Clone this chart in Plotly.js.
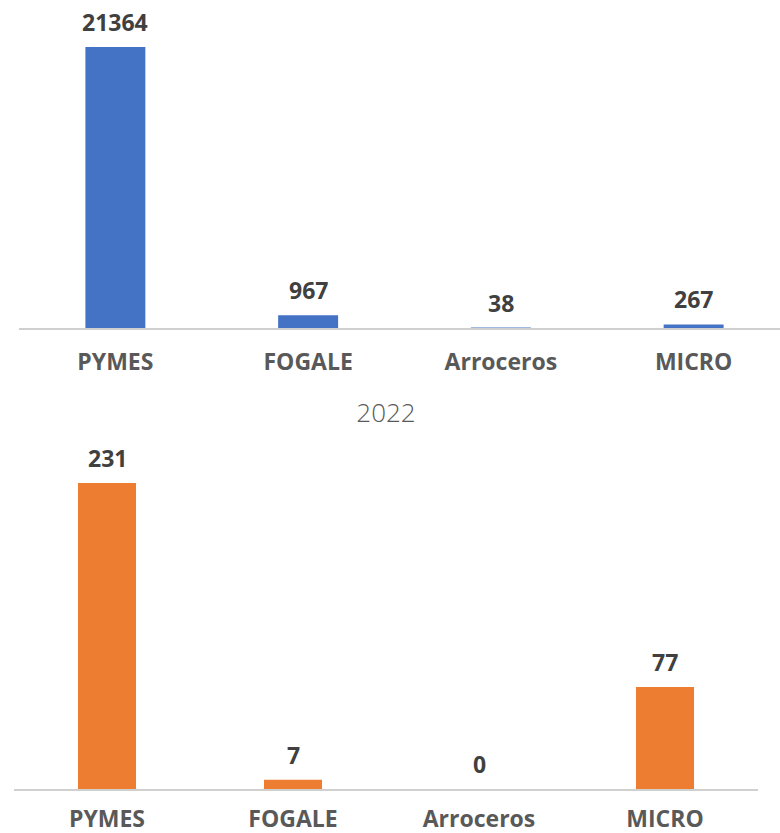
<!DOCTYPE html>
<html>
<head>
<meta charset="utf-8">
<script src="https://cdn.plot.ly/plotly-3.0.1.min.js"></script>
<style>html,body{margin:0;padding:0;background:#fff;}#chart{width:780px;height:833px;}</style>
</head>
<body>
<div id="chart"></div>
<script>
const categories = ['PYMES', 'FOGALE', 'Arroceros', 'MICRO'];
const valuesTop = [21364, 967, 38, 267];
const values2022 = [231, 7, 0, 77];
const title2022 = '2022';

const FONT = '"Open Sans", "Liberation Sans", sans-serif';
const labelColor = '#404040';
const tickColor = '#595959';

const traces = [
  {type: 'bar', x: categories, y: valuesTop, xaxis: 'x', yaxis: 'y',
   width: 0.311, marker: {color: '#4472C4'}, hoverinfo: 'none'},
  {type: 'bar', x: categories, y: values2022, xaxis: 'x2', yaxis: 'y2',
   width: 0.312, marker: {color: '#ED7D31'}, hoverinfo: 'none'}
];

const annotations = [];
categories.forEach((c, i) => {
  annotations.push({x: c, y: valuesTop[i], xref: 'x', yref: 'y', text: String(valuesTop[i]),
    showarrow: false, yanchor: 'middle', yshift: 25,
    font: {family: FONT, size: 23, color: labelColor, weight: 'bold'}});
  annotations.push({x: c, y: values2022[i], xref: 'x2', yref: 'y2', text: String(values2022[i]),
    showarrow: false, yanchor: 'middle', yshift: 25,
    font: {family: FONT, size: 23, color: labelColor, weight: 'bold'}});
});

const H = 833, W = 780;
const axisCommon = {
  type: 'category', showgrid: false, zeroline: false, showline: true,
  linecolor: '#d0d0d0', linewidth: 1.5, ticks: '',
  tickfont: {family: FONT, size: 23, color: tickColor, weight: 'bold'}, fixedrange: true
};
const layout = {
  width: W, height: H,
  margin: {l: 0, r: 0, t: 0, b: 0},
  paper_bgcolor: '#fff', plot_bgcolor: 'rgba(0,0,0,0)',
  showlegend: false,
  title: {text: title2022, x: 386 / W, xanchor: 'center', y: 1 - 413 / H, yanchor: 'middle',
          font: {family: FONT, size: 26, color: tickColor, weight: 300}},
  xaxis: Object.assign({}, axisCommon, {domain: [19 / W, 1], range: [-0.5, -0.5 + 761 / 192.75], anchor: 'y', ticklabelstandoff: 13}),
  yaxis: {domain: [1 - 328 / H, 1 - 10 / H], range: [0, 21364 * 318 / 281], visible: false, fixedrange: true},
  xaxis2: Object.assign({}, axisCommon, {domain: [14 / W, 758 / W], range: [-0.5, 3.5], anchor: 'y2', ticklabelstandoff: 9}),
  yaxis2: {domain: [1 - 789 / H, 1 - 440 / H], range: [0, 231 * 349 / 306], visible: false, fixedrange: true, anchor: 'x2'},
  annotations: annotations
};
Plotly.newPlot('chart', traces, layout, {displayModeBar: false, staticPlot: true});
</script>
</body>
</html>
